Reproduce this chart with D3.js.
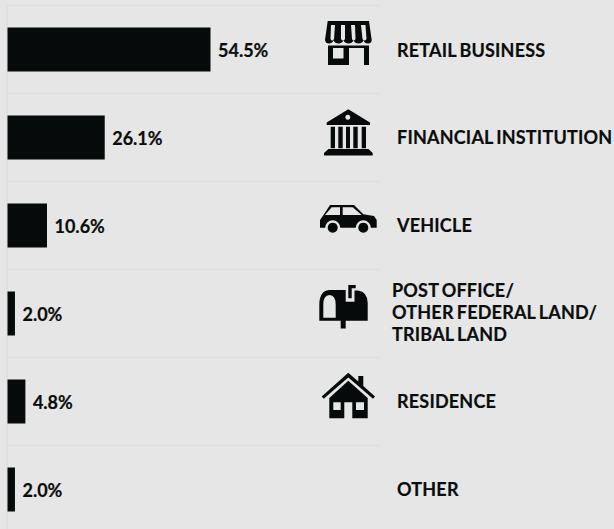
<!DOCTYPE html>
<html><head><meta charset="utf-8">
<style>html,body{margin:0;padding:0;background:#e6e6e6;overflow:hidden}svg{display:block}text{font-family:Lato,sans-serif;font-weight:700;fill:#0b0d0d;stroke:#0b0d0d;stroke-width:.2}</style>
<script src="https://cdn.jsdelivr.net/npm/d3@7/dist/d3.min.js"></script>
</head><body><svg id="c" width="614" height="529"></svg>
<script>
const categories=["retail","bank","vehicle","post","residence","other"];
const values=[54.5,26.1,10.6,2.0,4.8,2.0];
const labels=[["RETAIL BUSINESS"],["FINANCIAL INSTITUTION"],["VEHICLE"],["POST OFFICE/","OTHER FEDERAL LAND/","TRIBAL LAND"],["RESIDENCE"],["OTHER"]];
const ink="#070a0a",bg="#e6e6e6",grid="#dfdfdf";
const svg=d3.select("#c");
const x=d3.scaleLinear().domain([0,100]).range([7.5,380]);
const y=d3.scaleBand().domain(categories).range([5.5,533.5]).paddingInner(0.5).paddingOuter(0.25);
const rows=d3.scaleBand().domain(categories).range([5.5,533.5]);
svg.append("rect").attr("width",614).attr("height",529).attr("fill",bg);
svg.append("g").selectAll("line").data(categories).join("line")
  .attr("x1",7).attr("x2",380).attr("y1",d=>rows(d)).attr("y2",d=>rows(d)).attr("stroke",grid).attr("stroke-width",1.5);
svg.append("line").attr("x1",7).attr("x2",7).attr("y1",5).attr("y2",529).attr("stroke",grid).attr("stroke-width",1.5);
svg.append("g").selectAll("rect").data(categories).join("rect")
  .attr("x",x(0)).attr("y",d=>y(d)).attr("height",y.bandwidth())
  .attr("width",(d,i)=>x(values[i])-x(0)).attr("fill",ink);
svg.append("g").selectAll("text").data(categories).join("text")
  .attr("x",(d,i)=>x(values[i])+7.5).attr("y",d=>rows(d)+51.5)
  .attr("font-size",18).text((d,i)=>values[i].toFixed(1)+"%");
const g=svg.append("g").selectAll("text").data(categories).join("text")
  .attr("font-size",18).attr("letter-spacing",0.2).attr("word-spacing",-1.5);
g.each(function(d,i){
  const n=labels[i].length;
  const base=[57,144,232,0,408,496][i];
  d3.select(this).selectAll("tspan").data(labels[i]).join("tspan")
    .attr("x",n>1?392:397).attr("y",(t,j)=>n>1?297+j*22:base).text(t=>t);
});
const icons={
retail:"M327.7 21H369L371.7 40Q371.5 43.5 368 43.5Q364.5 43.5 363.5 40.5Q362 43.5 358.5 43.5Q355 43.5 353.5 40.5Q352 43.5 348.5 43.5Q345 43.5 343.5 40.5Q342 43.5 338.5 43.5Q335 43.5 333.5 40.5Q332 43.5 329 43.5Q325.5 43.5 325 40ZM331 25L330.5 39Q332 42 334 39L335 25ZM341 25L341 39Q343 42 345 39L345 25ZM351 25L352 39Q353.5 42 355.5 39L355 25ZM361 25L362.5 39Q364.5 42 366.5 39L365.5 25ZM328 45.5H369V65H364V48H349V65H328ZM333 48V58.5H343.5V48Z",
bank:"M348.3 109.3L370 122.5V125H326.7V122.5ZM347.8 114.8a2.5 2.5 0 1 0 .01 0ZM330.7 126.7H335V148.3H330.7ZM338.3 126.7H342.7V148.3H338.3ZM346 126.7H350V148.3H346ZM353.3 126.7H357.7V148.3H353.3ZM361.7 126.7H366V148.3H361.7ZM328.5 149H368.5L372.7 153V155.5H324V153Z",
vehicle:"M330 205H354L363.3 214.3L374 216L376.7 220V227.7H370.8A7.5 7.5 0 0 0 355.8 227.7H340.2A7.5 7.5 0 0 0 325.2 227.7H320V220L323.5 215ZM325 215H340V207.3H331.7ZM342.7 207.3V215H361.7L352.7 207.3ZM332.7 222.7a5 5 0 1 0 .01 0ZM363.3 222.7a5 5 0 1 0 .01 0Z",
post:"M329 290H345.7V301.7H354.5V290.5H358Q367.7 292 367.7 303V320.7H345.7V328.5H340.7V320.7H319.3V305Q319.3 291 329 290ZM323.3 317.7H335.7V305Q335.7 295 329.5 295Q323.3 295 323.3 305ZM348.3 285H355.7V288.3H351.7V298.3H348.3Z",
residence:"M348.3 372.7L358.3 381.5V376H363.3V386L375 396.5L373 398.8L348.3 377.5L323.7 398.8L321.7 396.5ZM348.3 380.7L367.7 398V418.3H352.3V402.3H344.3V418.3H329.3V398ZM333.3 402.3V410H340.7V402.3ZM356 402.3V410H364V402.3Z"};
svg.append("g").selectAll("path").data(categories.filter(d=>icons[d])).join("path")
  .attr("d",d=>icons[d]).attr("fill",ink).attr("fill-rule","evenodd");
</script></body></html>
